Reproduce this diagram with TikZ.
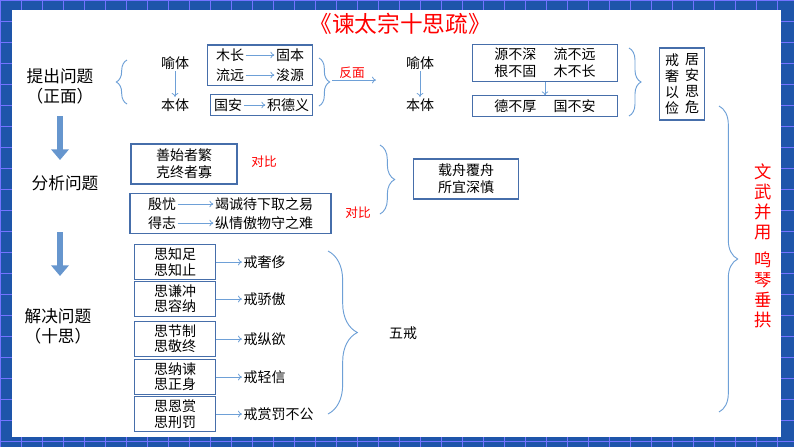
\documentclass[tikz,border=0pt]{standalone}
\usepackage{fontspec}
\setmainfont{Noto Sans CJK SC}
\usetikzlibrary{fit,decorations.pathreplacing,arrows.meta}
\definecolor{boxblue}{RGB}{70,110,170}
\definecolor{lineblue}{RGB}{110,160,215}
\definecolor{frameblue}{RGB}{30,85,170}
\tikzset{
  txt/.style={inner sep=1pt, font=\fontsize{10.5pt}{12.5pt}\selectfont},
  head/.style={inner sep=1pt, font=\fontsize{12.5pt}{15pt}\selectfont, align=center},
  redtxt/.style={inner sep=1pt, text=red, font=\fontsize{9.5pt}{11pt}\selectfont},
  box/.style={draw=boxblue, line width=0.8pt, inner sep=1.5pt},
  link/.style={draw=lineblue, -{To[length=3pt,width=5pt]}, line width=0.6pt},
  brace/.style={draw=lineblue, line width=0.7pt, decorate, decoration={brace, amplitude=#1}},
  bigarrow/.style={draw=lineblue!80!boxblue, line width=5pt, -{Triangle[length=8pt,width=13pt]}}
}
\begin{document}
\begin{tikzpicture}[x=0.75pt, y=-0.75pt]
\useasboundingbox (0,0) rectangle (794,447);
% frame
\fill[frameblue] (0,0) rectangle (794,447);
\foreach \i in {0,21,...,794} \draw[blue!55!white, line width=0.4pt] (\i,0) -- (\i,447);
\foreach \j in {0,21,...,447} \draw[blue!55!white, line width=0.4pt] (0,\j) -- (794,\j);
\fill[white] (12,10) rectangle (781,437);
\node[text=red, font=\fontsize{17pt}{20pt}\selectfont] (title) at (400,24) {《谏太宗十思疏》};

% row 1
\node[head] (q1) at (60,86) {提出问题\\（正面）};
\draw[brace=8pt] (127,104) -- (127,60);
\node[txt] (y1) at (175,63) {喻体};
\node[txt] (t1) at (175,105) {本体};
\draw[link] (y1) -- (t1);
\node[txt] (w1) at (230,55) {木长};
\node[txt] (w2) at (290,55) {固本};
\node[txt] (w3) at (230,75) {流远};
\node[txt] (w4) at (290,75) {浚源};
\draw[link] (w1) -- (w2);
\draw[link] (w3) -- (w4);
\node[box, minimum width=105pt*0.75, fit=(w1)(w4)] (b1) {};
\node[txt] (w5) at (228,105) {国安};
\node[txt] (w6) at (288,105) {积德义};
\draw[link] (w5) -- (w6);
\node[box, fit=(w5)(w6)] (b2) {};
\draw[brace=8pt] (319,58) -- (319,106);
\coordinate (fm) at (332,80);
\coordinate (fe) at (376,80);
\draw[link] (fm) -- (fe);
\node[redtxt] (fan) at (352,73) {反面};
\node[txt] (y2) at (420,63) {喻体};
\node[txt] (t2) at (420,105) {本体};
\draw[link] (y2) -- (t2);
\node[txt, align=left] (w7) at (545,63) {源不深\quad\ 流不远\\根不固\quad\ 木不长};
\node[box, minimum width=145pt*0.75, fit=(w7)] (b3) {};
\node[txt] (w8) at (545,106) {德不厚\quad\ 国不安};
\node[box, minimum width=145pt*0.75, fit=(w8)] (b4) {};
\draw[link] (b3.south) -- (b4.north);
\draw[brace=9pt] (629,48) -- (629,116);
\node[txt, align=center, font=\fontsize{10.5pt}{12pt}\selectfont] (v1) at (672,84) {戒\\奢\\以\\俭};
\node[txt, align=center, font=\fontsize{10.5pt}{12pt}\selectfont] (v2) at (692,84) {居\\安\\思\\危};
\node[box, inner sep=3pt, fit=(v1)(v2)] (b5) {};
\draw[brace=14pt] (719,106) -- (719,412);
\node[text=red, align=center, inner sep=0pt, font=\fontsize{13pt}{15pt}\selectfont] (wen) at (763,246) {文\\武\\并\\用\\[6pt]鸣\\琴\\垂\\拱};

% row 2
\coordinate (a1s) at (60,116);
\coordinate (a1e) at (60,160);
\draw[bigarrow] (a1s) -- (a1e);
\node[head] (q2) at (65,183) {分析问题};
\node[txt, align=center] (s1) at (184,164) {善始者繁\\克终者寡};
\node[box, minimum width=106pt*0.75, minimum height=40pt*0.75, fit=(s1)] (b6) {};
\node[redtxt] (db1) at (264,162) {对比};
\node[txt] (s2) at (162,204) {殷忧};
\node[txt] (s3) at (162,223) {得志};
\node[txt] (s4) at (264,204) {竭诚待下取之易};
\node[txt] (s5) at (264,223) {纵情傲物守之难};
\draw[link] (s2) -- (s4);
\draw[link] (s3) -- (s5);
\node[box, minimum width=201pt*0.75, fit=(s2)(s5)] (b7) {};
\node[redtxt] (db2) at (358,213) {对比};
\draw[brace=11pt] (380,145) -- (380,214);
\node[txt, align=center] (s6) at (466,179) {载舟覆舟\\所宜深慎};
\node[box, minimum width=105pt*0.75, minimum height=40pt*0.75, fit=(s6)] (b8) {};

% row 3
\coordinate (a2s) at (60,232);
\coordinate (a2e) at (60,276);
\draw[bigarrow] (a2s) -- (a2e);
\node[head] (q3) at (58,326) {解决问题\\（十思）};
\foreach \n/\y/\a/\b/\c in {1/262/思知足/思知止/戒奢侈, 2/299/思谦冲/思容纳/戒骄傲, 3/339/思节制/思敬终/戒纵欲, 4/377/思纳谏/思正身/戒轻信, 5/414/思恩赏/思刑罚/戒赏罚不公} {
  \node[txt, align=center, font=\fontsize{10.5pt}{11.5pt}\selectfont] (k\n) at (175,\y) {\a\\\b};
  \node[box, minimum width=81pt*0.75, minimum height=35pt*0.75, inner sep=0pt, fit=(k\n)] (kb\n) {};
  \node[txt, anchor=west] (j\n) at (242,\y) {\c};
  \draw[link] (kb\n.east) -- (j\n.west);
}
\draw[brace=22pt] (328,251) -- (328,414);
\node[txt] (wu) at (403,333) {五戒};
\end{tikzpicture}
\end{document}
